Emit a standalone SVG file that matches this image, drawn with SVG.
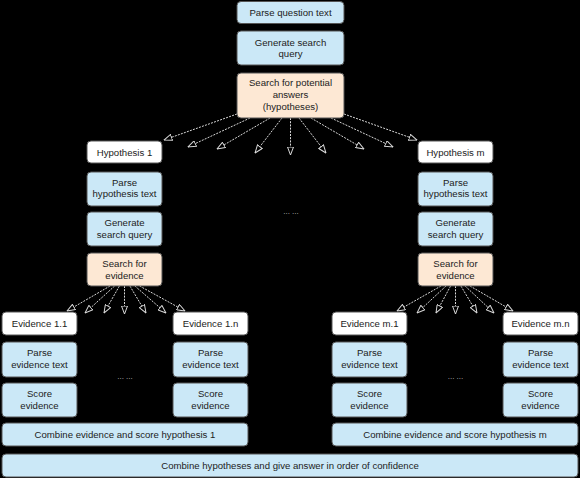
<svg xmlns="http://www.w3.org/2000/svg" width="580" height="478" viewBox="0 0 580 478">
<style>
.b rect{stroke:#555;stroke-width:1;rx:4;ry:4}
.blue rect{fill:#cbe8f7}
.peach rect{fill:#fde8d4}
.white rect{fill:#ffffff}
text{font-family:"Liberation Sans",Arial,sans-serif;font-size:9.6px;fill:#222;text-anchor:middle}
.conn path{fill:none;stroke:#d8d8d8;stroke-width:1;stroke-dasharray:2,1.2;marker-end:url(#arr)}
.dots{fill:#bbb;font-size:8px}
</style>
<defs>
<marker id="arr" viewBox="0 0 9 7" markerWidth="9" markerHeight="7" refX="8.5" refY="3.5" orient="auto" markerUnits="userSpaceOnUse">
<path d="M0.5,0.5 L8.5,3.5 L0.5,6.5 Z" fill="#000" stroke="#d8d8d8" stroke-width="1"/>
</marker>
</defs>
<rect x="0" y="0" width="580" height="478" fill="#000"/>

<g id="connectors" class="conn">
<path d="M237,114 L164,140"/>
<path d="M250,118 L188,147"/>
<path d="M270,118 L217,149"/>
<path d="M282,118 L255,153"/>
<path d="M290.5,118 L290.5,155"/>
<path d="M299,118 L326,153"/>
<path d="M311,118 L364,149"/>
<path d="M331,118 L393,147"/>
<path d="M344,114 L417,140"/>

<path d="M110,286 L67,311"/>
<path d="M114.6,286 L85,313"/>
<path d="M119.4,286 L104,313"/>
<path d="M124.5,286 L124.5,314"/>
<path d="M129.9,286 L146,313"/>
<path d="M134.9,286 L166,313"/>
<path d="M139.6,286 L185,311"/>

<path d="M441,286 L397,311"/>
<path d="M446,286 L417,313"/>
<path d="M450.6,286 L436,313"/>
<path d="M455.5,286 L455.5,314"/>
<path d="M460.9,286 L477,313"/>
<path d="M465.1,286 L494,313"/>
<path d="M470,286 L513,311"/>
</g>

<g id="parse-question" class="b blue"><rect x="237" y="1.5" width="107" height="22"/><text x="290.5" y="16">Parse question text</text></g>
<g id="gen-query" class="b blue"><rect x="237" y="31" width="107" height="34"/><text x="290.5" y="45.5">Generate search</text><text x="290.5" y="57">query</text></g>
<g id="search-answers" class="b peach"><rect x="237" y="73" width="107" height="45"/><text x="290.5" y="86">Search for potential</text><text x="290.5" y="98">answers</text><text x="290.5" y="110">(hypotheses)</text></g>

<g id="hyp1" class="b white"><rect x="87" y="141" width="75" height="22"/><text x="124.5" y="155.5">Hypothesis 1</text></g>
<g id="hyp1-parse" class="b blue"><rect x="87" y="172" width="75" height="34"/><text x="124.5" y="185.5">Parse</text><text x="124.5" y="197">hypothesis text</text></g>
<g id="hyp1-gen" class="b blue"><rect x="87" y="212" width="75" height="34"/><text x="124.5" y="226">Generate</text><text x="124.5" y="237.5">search query</text></g>
<g id="hyp1-search" class="b peach"><rect x="87" y="253" width="75" height="33"/><text x="124.5" y="267">Search for</text><text x="124.5" y="278.5">evidence</text></g>

<g id="hypm" class="b white"><rect x="418" y="141" width="75" height="22"/><text x="455.5" y="155.5">Hypothesis m</text></g>
<g id="hypm-parse" class="b blue"><rect x="418" y="172" width="75" height="34"/><text x="455.5" y="185.5">Parse</text><text x="455.5" y="197">hypothesis text</text></g>
<g id="hypm-gen" class="b blue"><rect x="418" y="212" width="75" height="34"/><text x="455.5" y="226">Generate</text><text x="455.5" y="237.5">search query</text></g>
<g id="hypm-search" class="b peach"><rect x="418" y="253" width="75" height="33"/><text x="455.5" y="267">Search for</text><text x="455.5" y="278.5">evidence</text></g>

<text class="dots" x="291" y="214">... ...</text>
<text class="dots" x="125" y="379">... ...</text>
<text class="dots" x="455.5" y="379">... ...</text>

<g id="ev11" class="b white"><rect x="2" y="312" width="75" height="23"/><text x="39.5" y="327">Evidence 1.1</text></g>
<g id="ev11-parse" class="b blue"><rect x="2" y="342" width="75" height="35"/><text x="39.5" y="356">Parse</text><text x="39.5" y="367.5">evidence text</text></g>
<g id="ev11-score" class="b blue"><rect x="2" y="383" width="75" height="34"/><text x="39.5" y="397">Score</text><text x="39.5" y="408.5">evidence</text></g>

<g id="ev1n" class="b white"><rect x="173" y="312" width="75" height="23"/><text x="210.5" y="327">Evidence 1.n</text></g>
<g id="ev1n-parse" class="b blue"><rect x="173" y="342" width="75" height="35"/><text x="210.5" y="356">Parse</text><text x="210.5" y="367.5">evidence text</text></g>
<g id="ev1n-score" class="b blue"><rect x="173" y="383" width="75" height="34"/><text x="210.5" y="397">Score</text><text x="210.5" y="408.5">evidence</text></g>

<g id="evm1" class="b white"><rect x="332" y="312" width="75" height="23"/><text x="369.5" y="327">Evidence m.1</text></g>
<g id="evm1-parse" class="b blue"><rect x="332" y="342" width="75" height="35"/><text x="369.5" y="356">Parse</text><text x="369.5" y="367.5">evidence text</text></g>
<g id="evm1-score" class="b blue"><rect x="332" y="383" width="75" height="34"/><text x="369.5" y="397">Score</text><text x="369.5" y="408.5">evidence</text></g>

<g id="evmn" class="b white"><rect x="503" y="312" width="75" height="23"/><text x="540.5" y="327">Evidence m.n</text></g>
<g id="evmn-parse" class="b blue"><rect x="503" y="342" width="75" height="35"/><text x="540.5" y="356">Parse</text><text x="540.5" y="367.5">evidence text</text></g>
<g id="evmn-score" class="b blue"><rect x="503" y="383" width="75" height="34"/><text x="540.5" y="397">Score</text><text x="540.5" y="408.5">evidence</text></g>

<g id="combine1" class="b blue"><rect x="2" y="423" width="246" height="23"/><text x="125" y="438">Combine evidence and score hypothesis 1</text></g>
<g id="combinem" class="b blue"><rect x="332" y="423" width="246" height="23"/><text x="455" y="438">Combine evidence and score hypothesis m</text></g>
<g id="combine-all" class="b blue"><rect x="2" y="454" width="576" height="23"/><text x="290" y="469">Combine hypotheses and give answer in order of confidence</text></g>
</svg>
